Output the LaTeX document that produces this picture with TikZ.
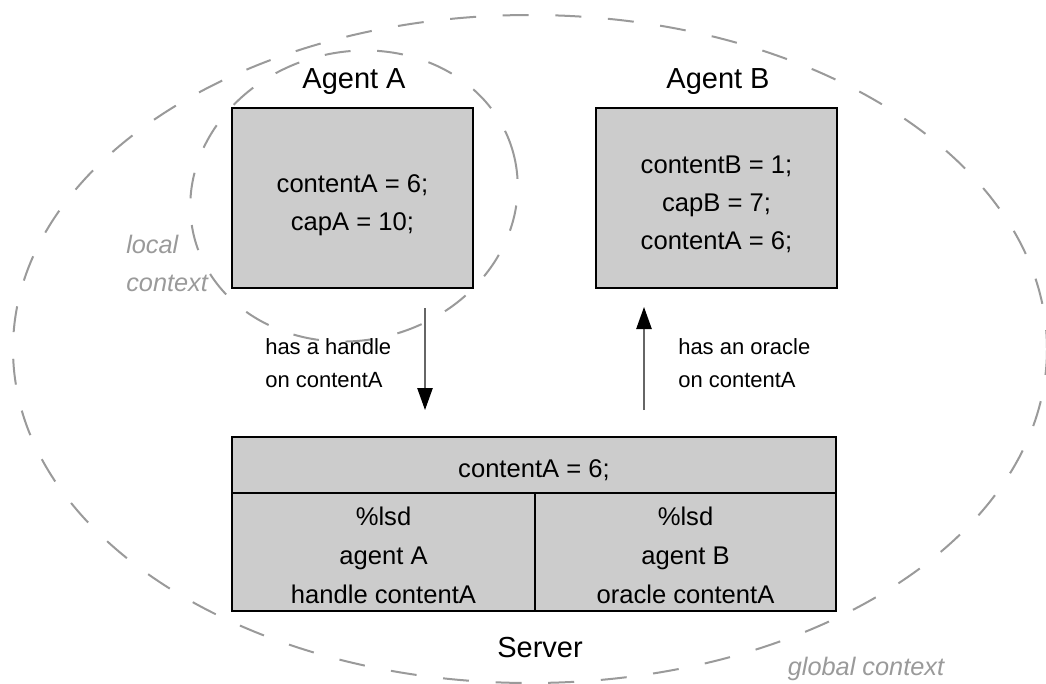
\documentclass[tikz,border=0pt]{standalone}
\usepackage{fontspec}
\setmainfont{Liberation Sans}
\usetikzlibrary{arrows.meta}
\definecolor{boxfill}{HTML}{CCCCCC}
\definecolor{ctxgray}{HTML}{9A9A9A}
\definecolor{shaftgray}{HTML}{666666}
\begin{document}
\begin{tikzpicture}[x=0.75pt,y=-0.75pt,
  ctxline/.style={draw=ctxgray, line width=1.5pt, dash pattern=on 19.5pt off 20pt},
  box/.style={draw=black, line width=1pt, fill=boxfill, inner sep=0pt, outer sep=0pt},
  agentbox/.style={box, minimum width=180.75pt, minimum height=135pt},
  titletext/.style={font=\fontsize{21.75}{26}\selectfont, anchor=base, inner sep=0pt},
  boxtext/.style={font=\fontsize{19.2}{28.5}\selectfont, align=center, anchor=base, inner sep=0pt},
  coltext/.style={font=\fontsize{19.2}{29.25}\selectfont, align=center, anchor=base, inner sep=0pt},
  lbltext/.style={font=\fontsize{16.5}{24.75}\selectfont, align=left, anchor=base west, inner sep=0pt},
  ctxtext/.style={font=\fontsize{19}{28}\selectfont\itshape, text=ctxgray, inner sep=0pt},
  link/.style={draw=shaftgray, line width=1.1pt, -{Triangle[length=16.5pt, width=11.5pt, color=black]}}
]
\useasboundingbox (0,0) rectangle (1046,683);

% contexts
\draw[ctxline] (530,349) ellipse [x radius=517, y radius=334];
\draw[ctxline, shift={(354,196)}, rotate=15] (0,0) ellipse [x radius=165, y radius=144];

% agent A
\node[agentbox] (boxA) at (352.5,198) {};
\node[titletext] (titleA) at (354,88) {Agent A};
\node[boxtext] (txtA) at (352.5,230) {contentA = 6;\\capA = 10;};

% agent B
\node[agentbox] (boxB) at (716.5,198) {};
\node[titletext] (titleB) at (718,88) {Agent B};
\node[boxtext] (txtB) at (716.5,249) {contentB = 1;\\capB = 7;\\contentA = 6;};

% server
\node[box, minimum width=453pt, minimum height=42pt] (srvtop) at (534,465) {};
\node[boxtext] (srvtxt) at (534,477) {contentA = 6;};
\node[box, minimum width=227.25pt, minimum height=88.5pt] (srvL) at (383.5,552) {};
\node[box, minimum width=225.75pt, minimum height=88.5pt] (srvR) at (685.5,552) {};
\node[coltext] (txtL) at (383.5,603) {\%lsd\\agent A\\handle contentA};
\node[coltext] (txtR) at (685.5,603) {\%lsd\\agent B\\oracle contentA};
\node[titletext] (server) at (540,657) {Server};

% links
\coordinate (hStart) at (425,308);
\coordinate (hEnd) at (425,410);
\coordinate (oStart) at (644,410);
\coordinate (oEnd) at (644,307);
\draw[link] (hStart) -- (hEnd);
\draw[link] (oStart) -- (oEnd);
\node[lbltext] (lblH) at (265,387) {has a handle\\on contentA};
\node[lbltext] (lblO) at (678,387) {has an oracle\\on contentA};

% context labels
\node[ctxtext, align=left, anchor=base west] (localctx) at (126,291) {local\\context};
\node[ctxtext, anchor=base] (globalctx) at (866,675) {global context};
\end{tikzpicture}
\end{document}
